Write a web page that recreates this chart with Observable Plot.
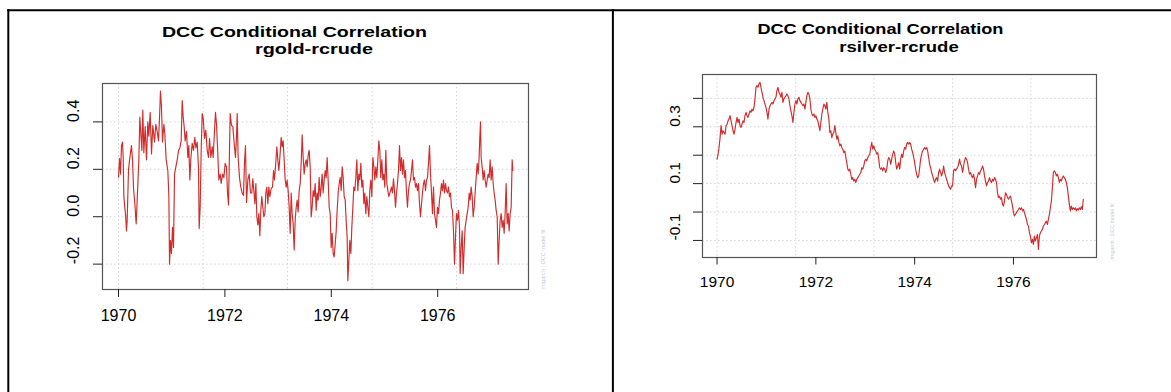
<!DOCTYPE html>
<html>
<head>
<meta charset="utf-8">
<script src="https://cdn.jsdelivr.net/npm/d3@7"></script>
<script src="https://cdn.jsdelivr.net/npm/@observablehq/plot@0.6"></script>
<style>
  html, body { margin: 0; padding: 0; background: #fff; }
  #wrap { position: relative; width: 1171px; height: 392px; overflow: hidden; background: #fff; }
  #wrap svg.plotsvg { position: absolute; top: 0; }
  #overlay { position: absolute; left: 0; top: 0; }
</style>
</head>
<body>
<div id="wrap">
<svg id="overlay" width="1171" height="392" font-family="Arial, 'Liberation Sans', sans-serif">
  <line x1="7" y1="10.2" x2="1171" y2="10.2" stroke="#000" stroke-width="2"/>
  <line x1="8.3" y1="9.2" x2="8.3" y2="392" stroke="#000" stroke-width="2"/>
  <line x1="612.9" y1="9.2" x2="612.9" y2="392" stroke="#000" stroke-width="2"/>
  <g id="titles" font-weight="bold" font-size="15.5" fill="#000" text-anchor="middle"></g>
  <g id="marks" font-size="5" fill="#C3CAD6"></g>
</svg>
</div>
<script>
// ---------------- data ----------------
const panelTitle = "DCC Conditional Correlation";
const pairNames = ["rgold-rcrude", "rsilver-rcrude"];
const xTickYears = [1970, 1972, 1974, 1976];
const gridYears = [1970, 1971.592, 1973.177, 1974.769, 1976.353];
const goldYTicks = [-0.2, 0.0, 0.2, 0.4];
const goldYLabels = [-0.2, 0.0, 0.2, 0.4];
const silverYTicks = [-0.1, 0.0, 0.1, 0.2, 0.3, 0.4];
const silverYLabels = [-0.1, 0.1, 0.3];
const watermark = "rmgarch  :  DCC model fit";

// [decimal year, conditional correlation]
const goldSeries = [
[1970.000,0.167],[1970.019,0.245],[1970.038,0.18],[1970.056,0.30],[1970.075,0.315],[1970.088,0.25],[1970.100,0.09],[1970.113,0.05],[1970.132,0.01],[1970.150,-0.06],
[1970.163,-0.015],[1970.188,0.20],[1970.213,0.25],[1970.244,0.30],[1970.263,0.24],[1970.282,0.12],[1970.307,0.055],[1970.332,-0.03],[1970.351,0.07],[1970.382,0.24],
[1970.401,0.42],[1970.420,0.35],[1970.439,0.28],[1970.457,0.45],[1970.476,0.27],[1970.501,0.38],[1970.526,0.24],[1970.551,0.40],[1970.570,0.34],[1970.595,0.44],
[1970.620,0.265],[1970.645,0.385],[1970.677,0.315],[1970.702,0.39],[1970.727,0.36],[1970.752,0.32],[1970.771,0.42],[1970.789,0.53],[1970.808,0.46],[1970.827,0.315],
[1970.852,0.39],[1970.871,0.35],[1970.896,0.24],[1970.927,0.195],[1970.946,0.09],[1970.959,-0.20],[1970.977,-0.10],[1970.996,-0.155],[1971.015,-0.045],[1971.034,-0.13],
[1971.053,0.18],[1971.078,0.21],[1971.103,0.24],[1971.128,0.28],[1971.153,0.29],[1971.178,0.32],[1971.197,0.49],[1971.216,0.42],[1971.234,0.38],[1971.253,0.32],
[1971.278,0.36],[1971.303,0.25],[1971.322,0.30],[1971.341,0.155],[1971.360,0.245],[1971.385,0.31],[1971.410,0.28],[1971.435,0.335],[1971.454,0.29],[1971.479,0.315],
[1971.504,0.20],[1971.516,-0.05],[1971.535,0.04],[1971.554,0.28],[1971.573,0.435],[1971.592,0.415],[1971.617,0.33],[1971.642,0.365],[1971.667,0.28],[1971.692,0.25],
[1971.711,0.33],[1971.736,0.25],[1971.761,0.295],[1971.779,0.25],[1971.805,0.365],[1971.823,0.44],[1971.842,0.39],[1971.861,0.295],[1971.886,0.155],[1971.911,0.18],
[1971.930,0.14],[1971.955,0.18],[1971.980,0.165],[1972.005,0.225],[1972.030,0.21],[1972.049,0.10],[1972.068,0.05],[1972.099,0.435],[1972.124,0.385],[1972.149,0.38],
[1972.174,0.31],[1972.199,0.25],[1972.218,0.335],[1972.231,0.435],[1972.249,0.25],[1972.274,0.165],[1972.299,0.125],[1972.324,0.10],[1972.349,0.09],[1972.368,0.225],
[1972.387,0.30],[1972.406,0.06],[1972.431,0.155],[1972.456,0.18],[1972.481,0.10],[1972.506,0.10],[1972.525,0.16],[1972.544,0.11],[1972.563,0.055],[1972.582,0.14],
[1972.600,0.0],[1972.619,-0.035],[1972.638,0.013],[1972.657,-0.08],[1972.675,0.027],[1972.694,0.085],[1972.713,0.04],[1972.732,0.0],[1972.751,0.013],[1972.769,0.10],
[1972.788,0.125],[1972.807,0.055],[1972.826,0.125],[1972.845,0.085],[1972.870,0.12],[1972.895,0.125],[1972.914,0.195],[1972.932,0.155],[1972.957,0.23],[1972.976,0.295],
[1972.995,0.24],[1973.014,0.195],[1973.033,0.25],[1973.058,0.335],[1973.076,0.295],[1973.095,0.32],[1973.114,0.24],[1973.133,0.155],[1973.152,0.125],[1973.170,0.155],
[1973.189,0.11],[1973.208,0.04],[1973.227,-0.07],[1973.246,0.10],[1973.264,0.013],[1973.283,-0.03],[1973.302,-0.14],[1973.321,-0.015],[1973.340,0.04],[1973.358,0.07],
[1973.377,0.02],[1973.396,0.11],[1973.415,0.14],[1973.434,0.225],[1973.452,0.345],[1973.471,0.25],[1973.490,0.18],[1973.509,0.225],[1973.528,0.24],[1973.546,0.21],
[1973.565,0.26],[1973.584,0.28],[1973.603,0.21],[1973.622,0.0],[1973.640,0.04],[1973.659,0.11],[1973.678,0.085],[1973.697,0.14],[1973.716,0.027],[1973.734,0.10],
[1973.753,0.07],[1973.772,0.165],[1973.791,0.085],[1973.810,0.125],[1973.828,0.18],[1973.847,0.10],[1973.866,0.155],[1973.885,0.195],[1973.904,0.165],[1973.922,0.25],
[1973.941,0.155],[1973.960,0.04],[1973.979,0.013],[1973.998,-0.13],[1974.016,-0.07],[1974.035,-0.155],[1974.054,-0.17],[1974.073,-0.115],[1974.092,-0.06],[1974.110,0.027],
[1974.129,0.10],[1974.148,0.14],[1974.167,0.165],[1974.186,0.11],[1974.204,0.21],[1974.223,0.165],[1974.242,0.085],[1974.261,0.07],[1974.279,-0.015],[1974.298,-0.085],
[1974.311,-0.27],[1974.330,-0.185],[1974.348,-0.10],[1974.367,-0.155],[1974.386,-0.045],[1974.405,0.04],[1974.424,0.125],[1974.442,0.11],[1974.461,0.165],[1974.480,0.24],
[1974.499,0.11],[1974.518,0.18],[1974.536,0.155],[1974.555,0.225],[1974.574,0.125],[1974.593,0.155],[1974.612,0.055],[1974.630,0.10],[1974.649,0.013],[1974.668,0.085],
[1974.687,0.04],[1974.706,0.0],[1974.724,0.11],[1974.743,0.155],[1974.762,0.085],[1974.781,0.25],[1974.800,0.21],[1974.818,0.155],[1974.837,0.21],[1974.856,0.165],
[1974.875,0.24],[1974.894,0.32],[1974.912,0.28],[1974.931,0.165],[1974.950,0.24],[1974.969,0.155],[1974.988,0.18],[1975.006,0.125],[1975.025,0.28],[1975.044,0.14],
[1975.063,0.11],[1975.082,0.085],[1975.132,0.125],[1975.150,0.10],[1975.169,0.16],[1975.188,0.11],[1975.207,0.04],[1975.226,0.10],[1975.244,0.14],[1975.263,0.195],
[1975.282,0.30],[1975.301,0.195],[1975.320,0.25],[1975.338,0.18],[1975.357,0.24],[1975.376,0.165],[1975.395,0.195],[1975.414,0.10],[1975.432,0.04],[1975.451,0.11],
[1975.470,0.14],[1975.489,0.155],[1975.508,0.195],[1975.526,0.24],[1975.545,0.155],[1975.564,0.165],[1975.583,0.125],[1975.602,0.14],[1975.620,0.11],[1975.639,0.14],
[1975.658,0.055],[1975.677,0.0],[1975.696,0.055],[1975.714,0.10],[1975.733,0.14],[1975.752,0.155],[1975.771,0.11],[1975.790,0.155],[1975.808,0.165],[1975.827,0.225],
[1975.846,0.30],[1975.865,0.18],[1975.884,0.10],[1975.902,0.013],[1975.921,0.125],[1975.940,0.013],[1975.959,-0.015],[1975.977,-0.045],[1975.996,0.04],[1976.015,0.013],
[1976.034,0.07],[1976.053,0.10],[1976.071,0.14],[1976.090,0.11],[1976.109,0.155],[1976.128,0.10],[1976.147,0.14],[1976.165,0.11],[1976.184,0.10],[1976.203,0.125],
[1976.222,0.085],[1976.241,0.10],[1976.259,0.04],[1976.278,0.027],[1976.297,-0.06],[1976.316,-0.20],[1976.335,-0.085],[1976.353,0.013],[1976.372,-0.015],[1976.391,0.027],
[1976.410,-0.045],[1976.422,-0.24],[1976.441,-0.13],[1976.460,-0.06],[1976.479,-0.24],[1976.498,-0.13],[1976.516,-0.045],[1976.535,-0.015],[1976.554,0.013],[1976.573,0.04],
[1976.592,0.10],[1976.610,0.07],[1976.629,0.125],[1976.648,0.085],[1976.667,0.0],[1976.686,0.04],[1976.704,0.10],[1976.723,0.165],[1976.742,0.225],[1976.761,0.18],
[1976.779,0.25],[1976.792,0.335],[1976.805,0.40],[1976.817,0.25],[1976.836,0.21],[1976.855,0.155],[1976.873,0.195],[1976.892,0.155],[1976.911,0.125],[1976.930,0.155],
[1976.949,0.18],[1976.967,0.165],[1976.986,0.24],[1977.005,0.155],[1977.024,0.21],[1977.043,0.14],[1977.061,0.10],[1977.080,0.07],[1977.099,0.027],[1977.118,0.0],
[1977.137,-0.20],[1977.155,-0.10],[1977.174,-0.015],[1977.193,0.013],[1977.212,-0.045],[1977.231,-0.015],[1977.249,-0.07],[1977.268,0.013],[1977.287,0.14],[1977.306,-0.03],
[1977.325,0.013],[1977.343,-0.06],[1977.362,0.013],[1977.381,0.04],[1977.400,0.24],[1977.412,0.195]
];

const silverSeries = [
[1970.000,0.186],[1970.020,0.204],[1970.040,0.227],[1970.061,0.262],[1970.081,0.304],[1970.101,0.274],[1970.121,0.286],[1970.141,0.28],[1970.162,0.274],[1970.182,0.304],
[1970.202,0.309],[1970.222,0.321],[1970.242,0.327],[1970.263,0.339],[1970.283,0.321],[1970.303,0.304],[1970.323,0.286],[1970.343,0.274],[1970.364,0.292],[1970.384,0.315],
[1970.404,0.333],[1970.424,0.315],[1970.444,0.327],[1970.465,0.304],[1970.485,0.298],[1970.505,0.309],[1970.525,0.321],[1970.545,0.315],[1970.566,0.339],[1970.586,0.351],
[1970.606,0.339],[1970.626,0.333],[1970.646,0.345],[1970.667,0.356],[1970.687,0.351],[1970.707,0.362],[1970.727,0.356],[1970.747,0.368],[1970.768,0.398],[1970.788,0.439],
[1970.808,0.445],[1970.828,0.439],[1970.848,0.451],[1970.869,0.456],[1970.889,0.439],[1970.909,0.421],[1970.929,0.404],[1970.949,0.392],[1970.970,0.38],[1970.990,0.368],
[1971.010,0.351],[1971.030,0.327],[1971.051,0.362],[1971.071,0.374],[1971.091,0.38],[1971.111,0.386],[1971.131,0.38],[1971.152,0.392],[1971.172,0.398],[1971.192,0.404],
[1971.212,0.427],[1971.232,0.439],[1971.253,0.421],[1971.273,0.415],[1971.293,0.404],[1971.313,0.421],[1971.333,0.386],[1971.354,0.398],[1971.374,0.404],[1971.394,0.409],
[1971.414,0.415],[1971.434,0.409],[1971.455,0.398],[1971.475,0.374],[1971.495,0.356],[1971.515,0.339],[1971.535,0.315],[1971.556,0.351],[1971.576,0.38],[1971.596,0.392],
[1971.616,0.38],[1971.636,0.398],[1971.657,0.404],[1971.677,0.392],[1971.697,0.386],[1971.717,0.38],[1971.737,0.374],[1971.758,0.38],[1971.778,0.362],[1971.798,0.386],
[1971.818,0.409],[1971.838,0.421],[1971.859,0.415],[1971.879,0.398],[1971.899,0.362],[1971.919,0.345],[1971.939,0.339],[1971.960,0.345],[1971.980,0.333],
[1972.000,0.339],[1972.020,0.327],[1972.040,0.321],[1972.061,0.304],[1972.081,0.286],[1972.101,0.315],[1972.121,0.345],[1972.141,0.362],[1972.162,0.38],[1972.182,0.374],
[1972.202,0.362],[1972.222,0.386],[1972.242,0.351],[1972.263,0.327],[1972.283,0.28],[1972.303,0.286],[1972.323,0.262],[1972.343,0.274],[1972.364,0.28],[1972.384,0.304],
[1972.404,0.28],[1972.424,0.256],[1972.444,0.268],[1972.465,0.245],[1972.485,0.233],[1972.505,0.239],[1972.525,0.227],[1972.545,0.221],[1972.566,0.209],[1972.586,0.215],
[1972.606,0.192],[1972.626,0.174],[1972.646,0.151],[1972.667,0.145],[1972.687,0.151],[1972.707,0.133],[1972.727,0.115],[1972.747,0.121],[1972.768,0.109],[1972.788,0.115],
[1972.808,0.104],[1972.828,0.115],[1972.848,0.121],[1972.869,0.127],[1972.889,0.133],[1972.909,0.139],[1972.929,0.156],[1972.949,0.151],[1972.970,0.162],[1972.990,0.18],
[1973.010,0.186],[1973.030,0.18],[1973.051,0.192],[1973.071,0.198],[1973.091,0.204],[1973.111,0.227],[1973.131,0.245],[1973.152,0.221],[1973.172,0.233],[1973.192,0.221],
[1973.212,0.215],[1973.232,0.204],[1973.253,0.209],[1973.273,0.186],[1973.293,0.156],[1973.313,0.151],[1973.333,0.156],[1973.354,0.145],[1973.374,0.156],[1973.394,0.151],
[1973.414,0.139],[1973.434,0.151],[1973.455,0.18],[1973.475,0.192],[1973.495,0.186],[1973.515,0.168],[1973.535,0.186],[1973.556,0.204],[1973.576,0.215],[1973.596,0.204],
[1973.616,0.174],[1973.636,0.151],[1973.657,0.162],[1973.677,0.174],[1973.697,0.151],[1973.717,0.186],[1973.737,0.204],[1973.758,0.192],[1973.778,0.215],[1973.798,0.227],
[1973.818,0.221],[1973.838,0.239],[1973.859,0.245],[1973.879,0.239],[1973.899,0.245],[1973.919,0.239],[1973.939,0.221],[1973.960,0.209],[1973.980,0.192],
[1974.000,0.174],[1974.020,0.151],[1974.040,0.133],[1974.061,0.121],[1974.081,0.127],[1974.101,0.156],[1974.121,0.186],[1974.141,0.204],[1974.162,0.215],[1974.182,0.221],
[1974.202,0.227],[1974.222,0.221],[1974.242,0.227],[1974.263,0.215],[1974.283,0.192],[1974.303,0.168],[1974.323,0.156],[1974.343,0.139],[1974.364,0.127],[1974.384,0.115],
[1974.404,0.104],[1974.424,0.115],[1974.444,0.121],[1974.465,0.109],[1974.485,0.139],[1974.505,0.151],[1974.525,0.139],[1974.545,0.127],[1974.566,0.139],[1974.586,0.162],
[1974.606,0.139],[1974.626,0.127],[1974.646,0.115],[1974.667,0.104],[1974.687,0.092],[1974.707,0.086],[1974.727,0.08],[1974.747,0.092],[1974.768,0.092],[1974.788,0.145],
[1974.808,0.151],[1974.828,0.145],[1974.848,0.151],[1974.869,0.156],[1974.889,0.168],[1974.909,0.186],[1974.929,0.168],[1974.949,0.162],[1974.970,0.139],[1974.990,0.162],
[1975.010,0.18],[1975.030,0.192],[1975.051,0.186],[1975.071,0.174],[1975.091,0.151],[1975.111,0.133],[1975.131,0.139],[1975.152,0.127],[1975.172,0.121],[1975.192,0.133],
[1975.212,0.115],[1975.232,0.086],[1975.253,0.115],[1975.273,0.127],[1975.293,0.139],[1975.313,0.133],[1975.333,0.145],[1975.354,0.151],[1975.374,0.162],[1975.394,0.151],
[1975.414,0.127],[1975.434,0.109],[1975.455,0.092],[1975.475,0.104],[1975.495,0.109],[1975.515,0.121],[1975.535,0.109],[1975.556,0.104],[1975.576,0.115],[1975.596,0.109],
[1975.616,0.121],[1975.636,0.115],[1975.657,0.104],[1975.677,0.068],[1975.697,0.051],[1975.717,0.056],[1975.737,0.045],[1975.758,0.051],[1975.778,0.027],[1975.798,0.021],
[1975.818,0.039],[1975.838,0.068],[1975.859,0.062],[1975.879,0.051],[1975.899,0.045],[1975.919,0.051],[1975.939,0.056],[1975.960,0.039],[1975.980,0.021],
[1976.000,-0.002],[1976.020,-0.014],[1976.040,-0.008],[1976.061,-0.002],[1976.081,0.004],[1976.101,0.009],[1976.121,0.015],[1976.141,0.009],[1976.162,0.015],[1976.182,0.004],
[1976.202,0.009],[1976.222,-0.002],[1976.242,-0.014],[1976.263,-0.026],[1976.283,-0.044],[1976.303,-0.049],[1976.323,-0.073],[1976.343,-0.085],[1976.364,-0.108],[1976.384,-0.096],
[1976.404,-0.114],[1976.424,-0.085],[1976.444,-0.102],[1976.465,-0.091],[1976.485,-0.079],[1976.505,-0.132],[1976.525,-0.085],[1976.545,-0.073],[1976.566,-0.067],[1976.586,-0.061],
[1976.606,-0.049],[1976.626,-0.044],[1976.646,-0.038],[1976.667,-0.032],[1976.687,-0.044],[1976.707,-0.026],[1976.727,-0.008],[1976.747,0.015],[1976.768,0.039],[1976.788,0.086],
[1976.808,0.139],[1976.828,0.145],[1976.848,0.139],[1976.869,0.127],[1976.889,0.133],[1976.909,0.121],[1976.929,0.104],[1976.949,0.115],[1976.970,0.109],[1976.990,0.121],
[1977.010,0.127],[1977.030,0.121],[1977.051,0.115],[1977.071,0.104],[1977.091,0.086],[1977.111,0.056],[1977.131,0.027],[1977.152,0.004],[1977.172,0.021],[1977.192,0.009],
[1977.212,0.015],[1977.232,0.009],[1977.253,0.015],[1977.273,0.004],[1977.293,0.012],[1977.313,0.007],[1977.333,0.015],[1977.354,0.009],[1977.374,0.019],[1977.394,0.009],
[1977.414,0.045]
];

// ---------------- drawing ----------------
const FONT = "Arial, 'Liberation Sans', sans-serif";
const LINE_COLOR = "#D12B2B";

function panel(cfg) {
  const svg = Plot.plot({
    width: cfg.width, height: 392,
    marginLeft: cfg.ml, marginRight: cfg.mr, marginTop: cfg.mt, marginBottom: cfg.mb,
    x: {domain: cfg.xDomain},
    y: {domain: cfg.yDomain},
    style: {fontFamily: FONT, fontSize: "16px", color: "#000", background: "transparent", overflow: "visible"},
    marks: [
      Plot.ruleX(gridYears, {stroke: "#D3D3D3", strokeWidth: 1, strokeDasharray: "1.5,2.5"}),
      Plot.ruleY(cfg.yTicks, {stroke: "#D3D3D3", strokeWidth: 1, strokeDasharray: "1.5,2.5"}),
      Plot.line(cfg.series, {x: d => d[0], y: d => d[1], stroke: LINE_COLOR, strokeWidth: 1.15}),
      Plot.frame({stroke: "#555", strokeWidth: 1.2}),
      Plot.axisX(xTickYears, {tickSize: cfg.xTick, tickPadding: cfg.xPad, tickFormat: d => String(d), fontSize: cfg.xFont, label: null, stroke: "#222"}),
      Plot.axisY(cfg.yTicks, {tickSize: 9, tickFormat: () => "", label: null, stroke: "#222"}),
      Plot.text(cfg.yLabels, {y: d => d, text: d => d.toFixed(1), rotate: -90, frameAnchor: "left", dx: cfg.yDx, fontSize: cfg.yFont, fill: "#000"})
    ]
  });
  svg.classList.add("plotsvg");
  svg.style.left = cfg.left + "px";
  return svg;
}

const wrap = document.getElementById("wrap");
const overlay = document.getElementById("overlay");

const left = panel({
  left: 0, width: 612, ml: 102, mr: 84, mt: 83, mb: 103,
  xDomain: [1969.699, 1977.707], yDomain: [-0.307, 0.562],
  series: goldSeries, yTicks: goldYTicks, yLabels: goldYLabels,
  xTick: 8, xPad: 12.5, xFont: 16, yDx: -29, yFont: 16
});
const right = panel({
  left: 612, width: 559, ml: 90, mr: 75, mt: 74, mb: 135,
  xDomain: [1969.705, 1977.681], yDomain: [-0.160, 0.484],
  series: silverSeries, yTicks: silverYTicks, yLabels: silverYLabels,
  xTick: 7.5, xPad: 10.5, xFont: 15.5, yDx: -27, yFont: 15.5
});
wrap.insertBefore(left, overlay);
wrap.insertBefore(right, overlay);

// titles
const NS = "http://www.w3.org/2000/svg";
const titleSpecs = [
  {text: panelTitle, x: 294.5, y: 36.8, w: 265},
  {text: pairNames[0], x: 314, y: 54.2, w: 118},
  {text: panelTitle, x: 880.4, y: 34.3, w: 246},
  {text: pairNames[1], x: 899, y: 51.5, w: 119.4}
];
const tg = document.getElementById("titles");
for (const t of titleSpecs) {
  const el = document.createElementNS(NS, "text");
  el.setAttribute("x", t.x); el.setAttribute("y", t.y);
  el.setAttribute("textLength", t.w); el.setAttribute("lengthAdjust", "spacingAndGlyphs");
  el.textContent = t.text;
  tg.appendChild(el);
}
const mg = document.getElementById("marks");
for (const m of [{x: 545, y: 289.5, w: 60}, {x: 1113.5, y: 259.5, w: 56}]) {
  const el = document.createElementNS(NS, "text");
  el.setAttribute("transform", `translate(${m.x},${m.y}) rotate(-90)`);
  el.setAttribute("textLength", m.w); el.setAttribute("lengthAdjust", "spacingAndGlyphs");
  el.textContent = watermark;
  mg.appendChild(el);
}
</script>
</body>
</html>
